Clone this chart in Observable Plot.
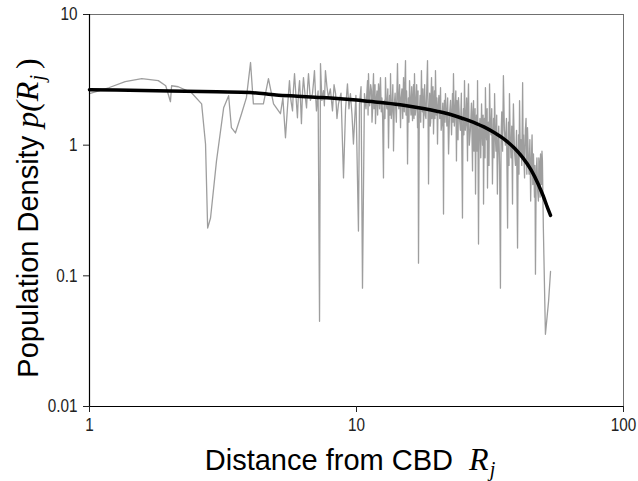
<!DOCTYPE html>
<html><head><meta charset="utf-8">
<script src="https://cdn.jsdelivr.net/npm/d3@7"></script>
<script src="https://cdn.jsdelivr.net/npm/@observablehq/plot@0.6"></script>
<style>body{margin:0;background:#fff;}</style>
</head><body><div id="chart"></div>
<script>
const distance = [1.00,1.18,1.36,1.57,1.81,1.93,2.01,2.03,2.15,2.41,
2.63,2.72,2.77,2.84,2.99,3.18,3.32,3.40,3.52,3.71,
3.87,4.01,4.11,4.48,4.68,4.89,
5.19,5.30,5.42,5.52,5.61,5.68,5.76,5.80,5.86,5.93,
6.01,6.06,6.12,6.17,6.22,6.28,6.33,6.42,6.50,6.56,
6.61,6.72,6.84,6.90,6.96,7.02,7.08,7.18,7.27,7.33,
7.42,7.52,7.58,7.65,7.75,7.85,7.98,8.13,8.24,8.35,
8.45,8.56,8.75,8.94,9.10,9.25,9.37,9.49,9.62,9.74,
9.95,10.17,10.26,10.40,10.53,10.71,10.85,
11.0,11.05,11.09,11.15,11.2,11.3,11.38,11.43,11.48,11.53,
11.58,11.63,11.68,11.73,11.78,11.85,11.93,12.0,12.09,12.15,
12.2,12.25,12.3,12.38,12.45,12.53,12.62,12.67,12.72,12.78,
12.84,12.92,13.0,13.1,13.18,13.24,13.3,13.36,13.41,13.5,
13.6,13.68,13.76,13.85,13.95,14.1,14.24,14.32,14.4,14.5,
14.62,14.7,14.8,14.9,15.0,15.1,15.18,15.26,15.33,15.4,
15.47,15.53,15.6,15.65,15.72,15.8,15.9,16.0,16.1,16.21,
16.28,16.35,16.42,16.49,16.6,16.7,16.8,16.93,17.0,17.07,
17.18,17.3,17.4,17.51,17.58,17.65,17.73,17.82,17.9,18.0,
18.1,18.2,18.32,18.45,18.53,18.61,18.7,18.8,18.88,18.95,
19.02,19.1,19.17,19.25,19.34,19.43,19.52,19.6,19.68,19.76,
19.9,20.0,20.11,20.2,20.35,20.5,20.64,20.75,20.9,21.05,
21.18,21.27,21.35,21.45,21.54,21.65,21.8,21.95,22.12,22.3,
22.5,22.7,22.88,22.98,23.08,23.25,23.4,23.55,23.68,23.8,
23.9,24.0,24.1,24.3,24.5,24.7,24.94,25.05,25.15,25.25,
25.38,25.55,25.7,25.85,26.05,26.15,26.27,26.45,26.7,26.95,
27.2,27.3,27.44,27.55,27.7,27.8,27.91,28.05,28.15,28.3,
28.4,28.5,28.64,28.8,29.0,29.2,29.4,29.55,29.65,29.8,
29.91,30.05,30.15,30.3,30.4,30.55,30.7,30.85,30.95,31.05,
31.2,31.35,31.5,31.7,31.9,32.1,32.3,32.45,32.6,32.75,
32.9,33.1,33.3,33.5,33.7,33.9,34.1,34.35,34.6,34.8,
35.0,35.25,35.5,35.8,36.1,36.45,36.8,36.95,37.1,37.25,
37.4,37.65,37.9,38.15,38.4,38.55,38.7,39.05,39.4,39.75,
40.1,40.3,40.45,40.6,40.8,41.05,41.3,41.6,41.9,42.1,
42.25,42.45,42.6,42.9,43.15,43.45,43.7,44.0,44.3,44.6,
44.9,45.2,45.45,45.75,46.0,46.2,46.4,46.6,46.8,47.1,
47.4,47.7,48.0,48.2,48.45,48.7,48.9,49.1,49.3,49.5,
49.7,50.1,51.0,52.4,53.3];
const density = [2.48,2.75,3.06,3.23,3.12,2.85,2.15,2.85,2.80,2.52,
2.07,1.02,0.232,0.277,0.758,1.93,2.39,1.36,1.24,1.74,
2.31,4.29,2.07,2.07,3.23,2.07,
1.74,2.3,1.14,2.0,3.12,2.2,1.83,2.6,3.52,2.4,
1.62,2.5,3.12,2.2,1.46,2.6,3.29,2.4,1.93,2.8,
3.52,2.2,2.48,3.0,3.72,2.5,1.83,2.6,0.0449,4.21,
2.2,2.61,2.0,3.72,2.8,2.31,2.7,1.83,2.9,2.48,
1.6,2.07,2.5,0.561,1.9,2.95,1.9,2.48,1.7,1.02,
2.4,0.22,2.07,2.8,0.0804,2.48,1.9,
3.12,1.7,3.52,2.4,2.0,2.9,2.61,1.5,1.8,2.7,
3.52,1.9,2.3,2.9,1.46,2.2,2.6,1.7,2.95,2.3,
1.9,2.8,3.29,1.8,2.3,1.6,0.561,1.9,2.2,1.6,
3.29,2.1,1.9,2.7,0.953,1.8,2.4,1.7,3.52,1.6,
2.0,2.9,0.904,2.0,2.5,1.5,4.21,2.2,1.9,2.9,
1.36,2.3,2.7,1.6,3.29,1.8,2.9,4.44,1.7,2.6,
1.9,0.719,1.8,2.3,1.5,3.12,2.2,1.7,2.8,1.54,
2.2,2.9,1.6,3.52,1.7,2.0,2.9,1.36,2.6,0.125,
1.6,2.4,1.5,3.72,2.2,1.8,2.7,1.36,1.9,2.9,
1.7,1.6,2.6,4.44,1.9,0.505,1.8,2.5,1.4,1.5,
2.4,3.29,1.6,2.1,2.8,1.22,1.9,2.6,1.6,3.72,
1.7,2.3,1.02,1.9,2.4,1.6,2.75,1.3,1.5,2.1,
0.297,1.8,2.2,1.5,2.48,1.9,1.4,2.3,0.857,1.7,
2.2,1.2,2.48,1.5,3.52,1.4,1.8,2.6,0.758,2.2,
1.9,1.1,2.31,1.6,1.3,2.5,0.277,1.6,1.9,1.2,
3.12,1.3,1.5,2.3,0.758,2.0,2.95,1.0,1.3,2.1,
0.635,1.8,2.19,0.9,1.1,1.9,0.423,1.4,1.7,0.9,
3.12,1.2,0.175,1.3,1.6,0.8,2.07,1.3,1.0,1.7,
0.354,1.2,1.6,0.8,2.75,1.4,1.1,1.9,0.470,1.0,
1.5,0.7,2.95,1.4,1.2,1.9,0.505,1.1,1.6,0.8,
2.48,1.2,0.9,1.7,0.423,1.0,1.4,0.7,0.0804,1.2,
1.8,0.9,3.40,1.3,1.0,1.6,0.232,0.9,1.5,0.7,
2.48,1.1,0.8,1.4,0.354,1.3,2.07,0.9,0.7,1.3,
0.163,0.8,1.2,0.6,2.19,0.9,1.1,0.7,3.01,0.8,
1.2,0.7,0.561,1.3,1.6,0.6,1.36,0.8,0.6,1.1,
0.374,0.8,1.2,0.5,0.857,0.6,0.4,0.7,0.103,0.6,
0.8,0.45,0.374,0.8,0.7,0.4,0.857,0.6,0.5,0.9,
0.758,0.232,0.0357,0.0638,0.108];
const fitDistance = [1,2,3,4,5,6,7,8,10,12,15,18,20,22,25,28,30,33,36,39,42,45,48,50,52,53.3];
const fitDensity = [2.66,2.6,2.56,2.53,2.42,2.37,2.33,2.3,2.22,2.13,2.02,1.9,1.82,1.74,1.6,1.47,1.38,1.24,1.1,0.95,0.8,0.65,0.5,0.41,0.33,0.29];
const xTicks = [1,10,100];
const yTicks = [0.01,0.1,1,10];
const xTitle = "Distance from CBD";
const yTitle = "Population Density";

const raw = distance.map((d,i)=>({d, p: density[i]}));
const fit = fitDistance.map((d,i)=>({d, p: fitDensity[i]}));
const fmt = d => String(d);

const chart = Plot.plot({
  width: 638, height: 481,
  marginLeft: 89, marginRight: 15, marginTop: 14, marginBottom: 75,
  style: {fontFamily: "'Liberation Sans',Arial,sans-serif", fontSize: "18px", color: "#222", background: "#fff"},
  x: {type: "log", domain: [1,100], label: null},
  y: {type: "log", domain: [0.01,10], label: null},
  marks: [
    Plot.frame({stroke: "#707070", strokeWidth: 1}),
    Plot.line(raw, {x: "d", y: "p", stroke: "#9e9e9e", strokeWidth: 1.3}),
    Plot.line(fit, {x: "d", y: "p", stroke: "#000", strokeWidth: 3.5, curve: "monotone-x"}),
    Plot.ruleX([1], {stroke: "#000", strokeWidth: 1.2}),
    Plot.ruleY([0.01], {stroke: "#000", strokeWidth: 1.2}),
    Plot.axisX({ticks: xTicks, tickFormat: fmt, tickSize: 6, tickPadding: 6, label: null}),
    Plot.axisY({ticks: yTicks, tickFormat: fmt, tickSize: 6, tickPadding: 6, label: null})
  ]
});
document.getElementById("chart").appendChild(chart);

// condense tick labels horizontally around their anchor (narrow face look)
chart.querySelectorAll('g[aria-label$="tick label"] text').forEach(el => {
  const t = el.getAttribute("transform") || "";
  const x = parseFloat(el.getAttribute("x")) || 0;
  el.setAttribute("transform", `${t} translate(${x},0) scale(0.85,1) translate(${-x},0)`);
});

const svg = d3.select(chart);
const sans = "'Liberation Sans',Arial,sans-serif";
const serif = "'Liberation Serif','Times New Roman',serif";
// y title
const yt = svg.append("text")
  .attr("transform", "translate(38,218) rotate(-90)")
  .attr("text-anchor", "middle")
  .attr("fill", "#000");
yt.append("tspan").attr("font-family", sans).attr("font-size", 29).text(yTitle + " ");
yt.append("tspan").attr("font-family", serif).attr("font-style", "italic").attr("font-size", 32).text("p(R");
yt.append("tspan").attr("font-family", serif).attr("font-style", "italic").attr("font-size", 20).attr("dy", 6).attr("dx", 1).text("j");
yt.append("tspan").attr("font-family", serif).attr("font-size", 32).attr("dy", -6).attr("dx", 6).text(")");
// x title
const xt = svg.append("text")
  .attr("transform", "translate(350,470)")
  .attr("text-anchor", "middle")
  .attr("fill", "#000");
xt.append("tspan").attr("font-family", sans).attr("font-size", 29).text(xTitle + "  ");
xt.append("tspan").attr("font-family", serif).attr("font-style", "italic").attr("font-size", 32).text("R");
xt.append("tspan").attr("font-family", serif).attr("font-style", "italic").attr("font-size", 20).attr("dy", 6).attr("dx", 1).text("j");
</script>
</body></html>
